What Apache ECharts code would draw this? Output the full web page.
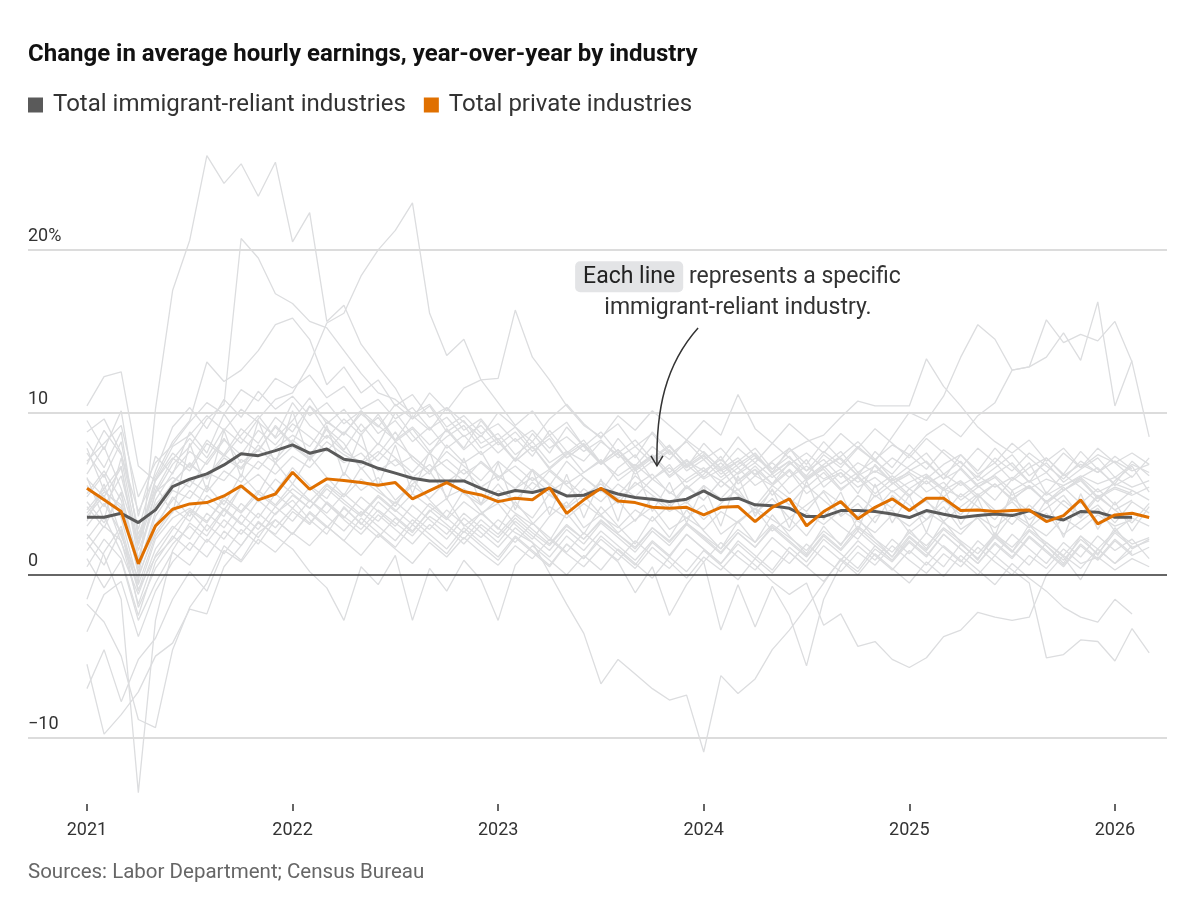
<!DOCTYPE html>
<html>
<head>
<meta charset="utf-8">
<script src="https://cdn.jsdelivr.net/npm/echarts@6/dist/echarts.min.js"></script>
<style>
  html, body { margin: 0; padding: 0; background: #fff; }
  #chart { width: 1200px; height: 900px; }
</style>
</head>
<body>
<div id="chart"></div>
<script>
const FONT = 'Roboto, "Liberation Sans", sans-serif';

// x = months since Jan 2021 (index into each series)
const yearLabels = ['2021', '2022', '2023', '2024', '2025', '2026'];
const yTicks = [-10, 0, 10, 20];

// Total private industries (Jan 2021 - Mar 2026)
const privateTotal = [
  5.33, 4.62, 3.90, 0.68, 3.02, 4.04, 4.37, 4.45, 4.86, 5.48, 4.62, 4.98,
  6.32, 5.27, 5.91, 5.81, 5.68, 5.52, 5.68, 4.68, 5.19, 5.68, 5.13, 4.92,
  4.51, 4.72, 4.62, 5.37, 3.79, 4.62, 5.33, 4.55, 4.45, 4.16, 4.10, 4.16,
  3.69, 4.16, 4.21, 3.28, 4.16, 4.68, 3.02, 3.90, 4.51, 3.45, 4.16, 4.68,
  3.96, 4.72, 4.72, 3.96, 3.99, 3.90, 3.96, 3.99, 3.28, 3.65, 4.62, 3.14,
  3.69, 3.79, 3.53
];

// Total immigrant-reliant industries (Jan 2021 - Feb 2026)
const immigrantTotal = [
  3.55, 3.55, 3.79, 3.22, 4.00, 5.44, 5.89, 6.22, 6.77, 7.45, 7.34, 7.65,
  8.00, 7.49, 7.75, 7.12, 6.97, 6.56, 6.26, 5.95, 5.78, 5.78, 5.78, 5.33,
  4.92, 5.19, 5.07, 5.33, 4.86, 4.90, 5.29, 4.98, 4.76, 4.66, 4.51, 4.66,
  5.17, 4.62, 4.72, 4.31, 4.25, 4.10, 3.59, 3.59, 3.96, 3.96, 3.90, 3.75,
  3.53, 3.96, 3.73, 3.53, 3.65, 3.75, 3.65, 3.94, 3.59, 3.38, 3.90, 3.86,
  3.55, 3.55
];

// individual immigrant-reliant industries
const indA = [
  4.8, 6.2, 3.5, -0.5, 10.2, 17.5, 20.6, 25.8, 24.1, 25.3, 23.3, 25.4,
  20.5, 22.3, 15.6, 16.6, 14.2, 12.8, 11.5, 9.6, 10.4, 8.8, 9.5, 8.1,
  8.7, 7.4, 8.2, 6.9, 7.6, 6.3, 7.1, 5.8, 6.6, 7.3, 6.0, 6.8,
  5.9, 6.5, 5.2, 6.1, 5.5, 6.4, 5.0, 5.8, 6.3, 5.4, 6.0, 5.1,
  5.7, 6.2, 5.3, 4.8, 5.6, 6.1, 5.2, 5.8, 4.9, 5.5, 6.0, 5.1,
  5.6, 5.2, null
];
const indB = [
  7.5, 6.0, 8.2, 2.5, 5.2, 7.1, 8.4, 7.2, 9.0, 8.1, 9.6, 10.8,
  11.2, 13.0, 15.5, 16.1, 18.4, 20.0, 21.2, 22.9, 16.1, 13.5, 14.5, 12.0,
  10.6, 9.2, 10.1, 8.6, 9.4, 7.9, 8.8, 7.5, 8.3, 7.1, 7.9, 6.8,
  7.6, 6.5, 7.2, 6.1, 7.0, 7.8, 6.4, 7.1, 6.0, 6.9, 6.3, 7.2,
  6.5, 5.9, 6.8, 7.4, 6.2, 6.9, 5.8, 6.6, 7.2, 6.1, 6.8, 6.3,
  7.0, 6.4, 6.8
];
const indC = [
  5.5, 4.2, 6.1, 1.8, 5.0, 6.8, 7.9, 9.6, 10.5, 20.7, 19.5, 17.3,
  16.7, 15.6, 15.2, 13.8, 12.4, 11.2, 10.8, 9.9, 10.5, 9.1, 9.8, 8.7,
  9.3, 8.2, 8.9, 7.8, 8.5, 7.6, 8.3, 7.2, 7.9, 6.9, 7.6, 6.6,
  7.3, 6.4, 7.0, 6.2, 6.9, 6.0, 6.7, 5.9, 6.5, 5.7, 6.4, 5.8,
  6.3, 5.6, 6.2, 5.5, 6.1, 5.4, 6.0, 5.3, 5.9, 5.5, 6.1, 5.6,
  6.0, 5.4, 5.8
];
const indD = [
  10.4, 12.2, 12.5, 6.7, 5.8, 7.2, 6.4, 8.1, 7.3, 8.6, 9.8, 8.4,
  9.5, 10.9, 9.3, 10.2, 8.8, 9.7, 8.2, 9.0, 7.6, 8.5, 9.2, 7.8,
  8.4, 7.0, 7.9, 6.5, 7.4, 8.1, 6.8, 7.5, 6.2, 7.0, 7.7, 6.4,
  7.1, 6.0, 6.8, 7.5, 6.3, 7.0, 5.8, 6.6, 7.2, 6.1, 6.7, 5.6,
  6.4, 7.0, 5.9, 6.5, 5.4, 6.2, 6.9, 5.7, 6.3, 5.2, 6.0, 6.6,
  5.5, 6.1, null
];
const indF = [
  6.8, 8.9, 7.4, 3.9, 6.1, 8.2, 9.5, 13.1, 11.9, 12.6, 13.8, 15.4,
  15.8, 14.5, 11.7, 12.8, 11.2, 12.0, 10.4, 11.1, 9.7, 10.3, 8.9, 9.6,
  8.3, 9.1, 7.8, 8.6, 7.2, 8.0, 6.9, 7.7, 6.5, 7.3, 6.1, 7.0,
  6.4, 5.8, 6.6, 5.5, 6.2, 5.0, 5.9, 6.5, 5.3, 6.0, 4.8, 5.6,
  6.2, 5.1, 5.7, 4.6, 5.4, 6.0, 4.9, 5.5, 4.4, 5.2, 5.8, 4.7,
  5.3, 4.9, 5.4
];
const indG = [
  3.8, 5.1, 4.3, 0.2, 3.6, 5.2, 4.7, 6.3, 5.8, 7.1, 6.5, 7.8,
  8.6, 7.9, 9.4, 8.7, 9.9, 9.1, 10.5, 9.6, 11.2, 10.1, 11.5, 12.0,
  12.1, 16.3, 13.4, 12.0, 10.4, 9.2, 8.5, 9.3, 7.9, 8.7, 7.4, 8.2,
  7.1, 7.8, 6.6, 7.4, 6.2, 7.0, 5.9, 6.7, 5.6, 6.3, 5.4, 6.1,
  5.3, 6.0, 5.2, 5.8, 4.9, 5.6, 4.7, 5.4, 4.5, 5.2, 5.9, 4.8,
  5.4, 5.0, null
];
const indG2 = [
  4.5, 3.2, 5.0, 0.8, 3.1, 4.6, 5.8, 5.1, 6.4, 5.7, 7.0, 6.2,
  7.3, 6.6, 7.8, 6.9, 7.5, 6.4, 7.1, 6.0, 6.8, 5.7, 6.5, 5.4,
  6.1, 5.3, 6.0, 5.1, 5.8, 4.9, 5.6, 4.7, 5.5, 6.2, 5.0, 5.9,
  6.6, 5.4, 6.3, 7.2, 6.5, 7.6, 8.2, 8.6, 9.7, 10.7, 10.4, 10.4,
  10.4, 13.3, 11.6, 10.4, 9.1, 8.2, 7.5, 8.3, 7.0, 7.8, 6.6, 7.4,
  6.9, 7.5, 6.8
];
const indH = [
  3.0, 4.4, 2.6, -1.0, 2.2, 3.5, 4.1, 3.3, 4.6, 3.8, 5.0, 4.2,
  5.3, 4.5, 5.6, 4.8, 5.9, 5.1, 4.4, 5.5, 4.7, 5.8, 5.0, 4.3,
  5.2, 4.6, 5.7, 4.9, 4.2, 5.3, 4.5, 5.6, 4.8, 5.9, 5.1, 4.4,
  5.5, 4.7, 5.8, 6.5, 5.6, 6.9, 6.1, 7.4, 6.6, 7.8, 7.0, 8.5,
  10.0, 9.5, 11.0, 13.4, 15.4, 14.5, 12.6, 12.8, 15.7, 14.3, 14.8, 14.4,
  15.6, 13.1, 8.5
];
const indI = [
  5.9, 4.8, 6.6, 1.5, 4.3, 5.6, 6.9, 5.9, 7.2, 6.5, 7.7, 6.9,
  7.9, 7.1, 8.2, 7.4, 6.8, 7.6, 6.7, 7.3, 6.4, 7.1, 6.2, 6.9,
  6.0, 6.7, 5.8, 6.5, 5.6, 6.3, 7.0, 6.1, 6.8, 5.9, 6.6, 5.7,
  6.4, 7.1, 6.2, 6.9, 6.0, 6.8, 7.5, 6.6, 7.3, 8.2, 7.1, 8.0,
  7.4, 8.6, 9.3, 8.5, 9.8, 10.6, 12.6, 12.8, 13.4, 14.9, 13.2, 16.8,
  10.4, 13.2, null
];
const indN1 = [
  2.5, 1.2, -1.5, -13.4, -2.8, 1.5, 3.2, 2.4, 4.0, 3.1, 4.6, 3.7,
  4.9, 4.1, 5.3, 4.4, 3.6, 4.8, 3.9, 5.0, 4.2, 3.4, 4.5, 3.7,
  4.7, 3.8, 3.1, 4.2, 3.5, 4.4, 3.6, 2.9, 4.0, 3.3, 4.3, 3.5,
  2.8, 3.9, 3.2, 4.1, 3.4, 2.7, 3.8, 3.1, 4.0, 3.3, 2.6, 3.7,
  3.0, 3.9, 3.2, 2.5, 3.6, 2.9, 3.8, 3.1, 2.4, 3.5, 2.8, 3.7,
  3.0, 3.4, null
];
const indN2 = [
  -5.5, -9.8, -8.6, -7.2, -5.0, -4.2, -2.1, -2.4, 0.5, 1.8, 3.2, 2.5,
  3.9, 3.1, 4.5, 3.6, 2.8, 4.0, 3.2, 2.4, 3.6, 2.9, 1.9, 3.1,
  2.3, 3.5, 2.6, 1.8, 3.0, 2.2, 3.3, 2.5, 1.7, 2.9, 2.1, 3.2,
  2.4, 1.6, 2.8, 2.0, 3.1, 2.3, 1.5, 2.7, 1.9, 3.0, 2.2, 1.4,
  2.6, 1.8, 2.9, 2.1, 1.3, 2.5, 1.7, 2.8, 2.0, 1.2, 2.4, 1.6,
  2.7, 1.9, 2.3
];
const indN3 = [
  -7.0, -4.6, -7.8, -5.2, -3.9, -1.5, 0.2, -1.0, 1.5, 0.8, 2.2, 1.4,
  2.6, 1.8, 3.0, 2.1, 1.2, 2.5, 1.6, 0.7, 2.0, 1.1, 2.3, 1.4,
  0.6, 1.8, 1.0, 2.2, 1.3, 0.5, 1.7, 0.9, 2.1, 1.2, 0.4, 1.6,
  0.8, 2.0, 1.1, 0.3, 1.5, 0.7, 1.9, 1.0, 0.2, 1.4, 0.6, 1.8,
  0.9, 0.1, 1.3, 0.5, 1.7, 0.8, 0.0, 1.2, 0.4, 1.6, 0.7, 1.1,
  0.3, 1.0, 0.5
];
const indN4 = [
  -1.8, -2.9, -5.0, -8.9, -9.4, -4.6, -2.0, -0.5, 1.8, 0.9, 2.6, 3.4,
  2.5, 3.8, 2.9, 4.1, 3.2, 2.3, 3.5, 2.6, 4.0, 3.1, 2.2, 3.4,
  2.5, 3.7, 2.8, 1.9, 3.1, 2.2, 3.4, 2.5, 1.6, 2.9, 2.0, 3.2,
  2.3, 1.4, 2.6, 1.7, 2.9, 2.0, 1.1, 2.4, 1.5, 2.7, 1.8, 0.9,
  2.1, 1.2, 2.5, 1.6, 0.7, 2.0, 1.1, 2.4, 1.5, 0.6, 1.9, 1.0,
  2.2, 1.3, null
];
const indN5 = [
  1.5, 3.0, 2.1, -1.8, 1.2, 2.8, 4.0, 3.2, 4.8, 3.9, 5.2, 4.3,
  5.6, 4.6, 3.8, 5.0, 4.1, 3.3, 4.5, 3.6, 2.8, 4.0, 3.1, 2.3,
  3.4, 2.6, 2.0, 0.1, -1.8, -3.6, -6.7, -5.2, -6.1, -7.0, -7.7, -7.4,
  -10.9, -6.2, -7.3, -6.4, -4.6, -3.4, -2.0, -0.5, 1.0, 0.2, 1.6, 0.8,
  2.0, 1.1, 2.5, 1.6, 0.7, 1.9, 1.0, 2.3, 1.4, 0.5, 1.8, 0.9,
  2.1, 1.2, 1.7
];
const indN6 = [
  0.5, 2.2, 1.0, -2.5, 0.8, 2.4, 1.5, 3.1, 2.2, 3.7, 2.8, 4.2,
  3.3, 4.6, 3.6, 2.7, 3.9, 3.0, 2.1, 3.4, 2.5, 1.6, 2.9, 2.0,
  1.1, 2.4, 1.5, 0.6, 1.9, 1.0, 2.2, 1.3, 0.4, 1.7, 0.8, -0.2,
  1.1, 0.3, 1.5, 0.6, -0.4, -1.2, -0.5, -3.1, -2.4, -4.4, -4.1, -5.2,
  -5.7, -5.1, -3.8, -3.4, -2.3, -2.6, -2.8, -2.6, 0.0, 1.2, 0.4, 1.6,
  0.7, 1.5, null
];
const indN7 = [
  2.0, 0.6, 2.8, -2.0, 0.4, 1.9, 3.0, 2.0, 3.4, 2.5, 3.8, 2.9,
  4.1, 3.2, 4.4, 3.4, 2.5, 3.7, 2.8, 1.9, 3.1, 2.2, 3.5, 2.6,
  1.7, 2.9, 2.0, 1.1, 2.4, 1.5, 2.7, 1.8, 0.9, 2.1, 1.2, 2.5,
  1.6, 0.7, 1.9, 1.0, 2.3, 1.4, 0.5, 1.8, 0.9, 2.1, 1.2, 0.3,
  1.5, 0.6, 1.8, 0.9, 0.0, 1.2, 0.3, -0.5, -5.1, -4.9, -4.0, -4.1,
  -5.3, -3.3, -4.8
];
const indN8 = [
  -3.5, -1.2, -0.4, -3.8, -1.0, 0.8, 2.0, 1.1, 2.7, 1.8, 3.3, 2.4,
  1.6, 0.2, -0.8, -2.8, 0.5, -0.6, 1.2, -2.8, 0.4, -1.0, 0.9, -0.3,
  -2.8, 0.6, 1.8, 0.9, 0.0, 1.2, 0.3, 1.6, 0.7, -0.2, 1.1, 0.2,
  1.5, 0.6, -0.3, 1.0, 0.1, 1.4, 0.5, -0.4, 0.9, 0.0, 1.3, 0.4,
  -0.5, 0.8, -0.1, 1.2, 0.3, -0.6, 0.7, -0.2, -1.0, -2.0, -2.6, -2.9,
  -1.5, -2.4, null
];
const indN9 = [
  4.2, 2.9, 5.1, 0.0, 2.6, 4.1, 3.3, 4.9, 4.0, 5.4, 4.5, 5.9,
  5.0, 4.1, 5.5, 4.6, 3.7, 4.9, 4.0, 3.1, 4.4, 3.5, 2.6, 3.8,
  2.9, 2.0, 3.2, 2.3, 1.4, 2.6, 1.7, 0.8, -1.1, 0.5, -2.5, -0.6,
  0.8, -3.4, -0.6, -3.2, -0.7, -2.5, -5.6, -1.5, 0.6, 1.8, 0.9, 2.2,
  1.3, 2.6, 1.7, 0.8, 2.1, 1.2, 2.5, 1.6, 0.7, 2.0, 1.1, 2.4,
  1.5, 2.2, 1.0
];
const band1 = [
  8.8, 9.6, 7.5, 2.8, 6.4, 9.1, 10.3, 9.0, 10.8, 9.7, 11.3, 10.2,
  11.0, 9.8, 10.6, 9.3, 10.1, 8.7, 9.5, 8.2, 9.1, 7.8, 8.6, 7.4,
  8.2, 7.0, 7.9, 6.6, 7.5, 8.3, 6.9, 7.7, 6.4, 7.2, 8.0, 6.7,
  7.4, 6.2, 7.0, 7.8, 6.5, 7.3, 6.0, 6.8, 7.6, 6.3, 7.1, 5.9,
  6.7, 7.5, 6.2, 7.0, 5.8, 6.6, 7.4, 6.1, 6.9, 5.7, 6.5, 7.2,
  6.0, 6.8, 6.3
];
const band2 = [
  5.0, 6.4, 4.6, 0.4, 3.9, 5.7, 6.8, 6.0, 7.4, 6.6, 8.0, 7.1,
  8.3, 7.4, 8.6, 7.6, 6.9, 8.1, 7.2, 6.3, 7.5, 6.6, 5.8, 7.0,
  6.1, 5.3, 6.5, 5.6, 4.8, 6.0, 5.2, 4.4, 5.7, 4.9, 4.1, 5.4,
  4.6, 5.8, 5.0, 4.2, 5.5, 4.7, 3.9, 5.2, 4.4, 3.6, 4.9, 4.1,
  5.3, 4.5, 3.7, 5.0, 4.2, 3.4, 4.7, 3.9, 5.1, 4.3, 3.5, 4.8,
  4.0, 4.6, null
];
const band3 = [
  2.2, 3.6, 1.4, -1.2, 1.6, 3.0, 2.2, 3.8, 2.9, 4.4, 3.5, 5.0,
  4.1, 5.4, 4.4, 3.5, 4.8, 3.9, 3.0, 4.3, 3.4, 2.5, 3.8, 2.9,
  2.0, 3.3, 2.4, 1.5, 2.8, 1.9, 3.2, 2.3, 1.4, 2.7, 1.8, 3.1,
  2.2, 1.3, 2.6, 1.7, 3.0, 2.1, 1.2, 2.5, 1.6, 2.9, 2.0, 1.1,
  2.4, 1.5, 2.8, 1.9, 1.0, 2.3, 1.4, 2.7, 1.8, 0.9, 2.2, 1.3,
  2.6, 1.7, 2.1
];
const band4 = [
  6.0, 3.4, 7.2, 1.9, 5.5, 3.8, 8.1, 5.2, 8.9, 6.0, 9.5, 6.8,
  10.1, 7.0, 9.2, 6.1, 8.7, 5.5, 8.0, 5.0, 7.6, 4.6, 7.2, 4.3,
  6.9, 4.0, 6.5, 3.7, 6.2, 3.5, 5.9, 3.3, 6.6, 3.9, 5.7, 3.2,
  5.5, 3.0, 6.1, 3.6, 5.3, 2.9, 5.8, 3.4, 5.1, 2.7, 5.6, 3.2,
  4.9, 2.6, 5.4, 3.1, 4.7, 2.4, 5.2, 3.0, 4.6, 2.3, 5.0, 2.8,
  4.5, 2.7, 4.2
];
const band5 = [
  7.0, 8.1, 9.2, 4.8, 6.9, 8.0, 9.4, 10.6, 9.9, 11.4, 10.7, 12.1,
  11.5, 12.3, 10.9, 11.6, 10.2, 10.8, 9.6, 10.3, 9.0, 9.7, 8.5, 9.2,
  8.0, 8.8, 7.6, 8.4, 7.2, 8.0, 6.9, 7.7, 6.6, 7.4, 6.3, 7.1,
  6.0, 6.9, 5.8, 6.7, 5.6, 6.5, 5.4, 6.3, 5.2, 6.1, 5.0, 5.9,
  4.9, 5.8, 4.8, 5.7, 4.7, 5.6, 4.6, 5.5, 4.5, 5.4, 4.4, 5.3,
  4.3, 5.2, 4.6
];
const band6 = [
  3.3, 5.6, 2.4, -0.2, 2.9, 4.8, 3.6, 5.5, 4.3, 6.2, 5.0, 6.9,
  5.6, 7.3, 6.0, 4.9, 6.6, 5.3, 4.2, 5.9, 4.6, 3.5, 5.2, 3.9,
  2.8, 4.5, 3.2, 2.1, 3.8, 2.5, 4.2, 3.0, 1.9, 3.6, 2.3, 4.0,
  2.7, 1.6, 3.3, 2.0, 3.7, 2.4, 1.3, 3.0, 1.8, 3.5, 2.2, 1.1,
  2.8, 1.6, 3.3, 2.0, 0.9, 2.6, 1.4, 3.1, 1.8, 0.7, 2.4, 1.2,
  2.9, 1.6, 2.2
];
const band7 = [
  9.5, 7.7, 10.1, 3.6, 7.3, 6.2, 8.8, 7.5, 9.9, 8.4, 7.6, 9.2,
  8.1, 10.4, 8.9, 7.7, 9.3, 8.0, 10.0, 8.6, 7.4, 9.0, 7.8, 9.5,
  8.2, 7.1, 8.7, 7.5, 9.1, 7.9, 6.8, 8.4, 7.2, 8.8, 7.6, 6.6,
  8.1, 7.0, 8.5, 7.3, 6.3, 7.8, 6.8, 8.2, 7.1, 6.1, 7.6, 6.6,
  8.0, 6.9, 5.9, 7.4, 6.4, 7.8, 6.7, 5.7, 7.2, 6.2, 7.6, 6.5,
  5.6, 7.0, 6.1
];
const band8 = [
  1.0, -0.8, 0.9, -2.8, -0.5, 1.4, 0.6, 2.2, 1.3, 2.8, 1.9, 3.4,
  2.5, 3.9, 3.0, 2.1, 3.5, 2.6, 1.7, 3.1, 2.2, 1.3, 2.7, 1.8,
  0.9, 2.3, 1.4, 0.5, 1.9, 1.0, 2.4, 1.5, 0.6, 2.0, 1.1, 2.5,
  1.6, 0.7, 2.1, 1.2, 0.3, 1.7, 0.8, 2.2, 1.3, 0.4, 1.8, 0.9,
  2.3, 1.4, 0.5, 1.9, 1.0, 2.4, 1.5, 0.6, 2.0, 1.1, -0.3, 1.6,
  0.7, 1.8, null
];
const band9 = [
  4.0, 5.3, 6.7, 1.0, 4.6, 6.3, 7.6, 6.8, 8.3, 7.4, 8.9, 8.0,
  9.3, 8.5, 7.6, 8.8, 7.9, 7.0, 8.2, 7.3, 6.4, 7.6, 6.7, 5.8,
  7.0, 6.1, 5.2, 6.4, 5.5, 4.6, 5.8, 4.9, 6.1, 5.2, 4.3, 5.5,
  4.6, 5.8, 4.9, 4.0, 5.2, 4.3, 5.5, 4.6, 3.7, 4.9, 4.0, 5.2,
  4.3, 3.4, 4.6, 3.7, 4.9, 4.0, 3.1, 4.3, 3.4, 4.6, 3.7, 4.9,
  4.0, 3.2, 4.4
];
const band10 = [
  6.2, 7.9, 5.3, 2.0, 5.8, 7.5, 6.6, 8.3, 7.4, 9.0, 8.1, 9.7,
  8.8, 10.4, 9.5, 8.6, 10.1, 9.2, 8.3, 9.8, 8.9, 10.3, 9.4, 8.5,
  10.0, 9.1, 8.2, 9.6, 10.5, 9.3, 8.4, 9.8, 8.9, 10.1, 9.2, 8.3,
  9.5, 8.6, 11.1, 9.0, 8.1, 9.3, 8.4, 7.5, 8.7, 7.8, 9.0, 8.1,
  7.2, 8.4, 7.5, 6.6, 7.8, 6.9, 8.1, 7.2, 6.3, 7.5, 6.6, 7.8,
  6.9, 6.0, 7.2
];
const band11 = [
  7.8, 5.2, 4.1, 0.9, 5.1, 6.0, 5.4, 7.0, 8.4, 6.9, 7.7, 9.1,
  8.0, 7.2, 9.0, 8.1, 6.5, 7.4, 8.8, 7.1, 6.2, 8.0, 6.9, 7.6,
  5.8, 7.2, 6.4, 5.5, 7.0, 6.0, 5.1, 6.6, 7.4, 5.9, 6.8, 5.3,
  6.2, 7.3, 5.6, 6.5, 4.9, 6.0, 7.1, 5.4, 6.3, 5.0, 6.8, 5.7,
  4.8, 6.1, 5.3, 6.6, 5.5, 4.6, 5.9, 6.9, 5.0, 6.2, 5.4, 4.5,
  5.8, 6.7, 5.1
];
const band12 = [
  3.6, 4.9, 2.0, -0.6, 2.4, 3.9, 5.2, 4.4, 3.6, 5.4, 6.2, 5.1,
  6.6, 5.5, 4.7, 6.3, 5.2, 6.0, 4.6, 5.6, 6.4, 4.8, 5.3, 4.4,
  5.6, 4.3, 3.5, 5.0, 4.1, 4.9, 3.7, 4.6, 3.3, 4.8, 3.9, 4.5,
  3.4, 4.4, 5.3, 3.8, 4.7, 3.5, 4.3, 5.1, 3.6, 4.4, 3.2, 4.9,
  3.9, 4.6, 3.3, 4.2, 5.0, 3.7, 4.5, 3.4, 4.1, 4.9, 3.6, 4.3,
  3.2, 4.5, 3.8
];
const band13 = [
  8.2, 6.6, 8.8, 2.2, 5.9, 7.9, 8.6, 9.8, 8.9, 10.2, 9.4, 8.5,
  10.6, 9.2, 8.4, 9.6, 8.6, 9.9, 8.3, 9.1, 8.0, 8.9, 7.7, 8.6,
  7.5, 8.4, 7.3, 8.9, 7.6, 7.0, 8.2, 7.4, 6.7, 7.9, 7.1, 8.3,
  7.5, 6.6, 7.8, 6.9, 8.1, 7.2, 6.4, 7.6, 6.8, 7.9, 7.0, 6.2,
  7.4, 6.5, 7.7, 6.9, 6.0, 7.2, 6.4, 7.5, 6.7, 5.9, 7.0, 6.3,
  7.3, 6.5, null
];
const band14 = [
  -1.5, 1.4, 3.0, -0.9, 1.1, 2.2, 3.9, 2.7, 4.1, 3.2, 2.3, 3.8,
  4.6, 3.4, 2.5, 4.2, 3.1, 4.5, 3.6, 2.7, 3.9, 4.7, 3.0, 3.8,
  4.4, 3.1, 2.2, 3.6, 4.5, 2.9, 3.7, 2.6, 3.4, 4.2, 2.8, 3.5,
  4.3, 2.5, 3.3, 4.1, 2.7, 3.5, 2.4, 3.9, 3.0, 2.2, 3.6, 4.0,
  2.6, 3.4, 4.2, 2.8, 3.5, 2.3, 3.7, 2.9, 3.8, 2.5, 3.3, 4.1,
  2.7, 3.5, 3.0
];

const industries = [
  indA, indB, indC, indD, indF, indG, indG2, indH, indI,
  indN1, indN2, indN3, indN4, indN5, indN6, indN7, indN8, indN9,
  band1, band2, band3, band4, band5, band6, band7, band8, band9, band10,
  band11, band12, band13, band14
];

const NAME_IMM = 'Total immigrant-reliant industries';
const NAME_PRIV = 'Total private industries';
const COLOR_IMM = '#5a5a5a';
const COLOR_PRIV = '#e07000';

const toPairs = (arr) =>
  arr.map((v, i) => [i, v]).filter((p) => p[1] !== null);

const chart = echarts.init(document.getElementById('chart'));

const yearTickValues = yearLabels.map((_, k) => k * 12);

const industrySeries = industries.map((vals, k) => ({
  name: 'industry-' + k,
  type: 'line',
  data: toPairs(vals),
  symbol: 'none',
  silent: true,
  z: 2,
  lineStyle: { color: '#dcdddf', width: 1.3 },
  itemStyle: { color: '#dcdddf' },
}));

const option = {
  animation: false,
  textStyle: { fontFamily: FONT },
  title: [
    {
      text: 'Change in average hourly earnings, year-over-year by industry',
      left: 28,
      top: 43,
      padding: 0,
      textStyle: { fontSize: 24, fontWeight: 'bold', color: '#111', fontFamily: FONT },
    },
    {
      text: 'Sources: Labor Department; Census Bureau',
      left: 28,
      top: 862,
      padding: 0,
      textStyle: { fontSize: 20.5, fontWeight: 'normal', color: '#666', fontFamily: FONT },
    },
  ],
  legend: {
    data: [NAME_IMM, NAME_PRIV],
    left: 28,
    top: 93,
    padding: 0,
    icon: 'rect',
    itemWidth: 15,
    itemHeight: 15,
    itemGap: 18,
    selectedMode: false,
    textStyle: { fontSize: 24, color: '#333', fontFamily: FONT, padding: [0, 0, 0, 5] },
  },
  grid: { left: 28, right: 33, top: 150, bottom: 96, containLabel: false },
  xAxis: {
    type: 'value',
    min: -3.44,
    max: 63.04,
    axisLine: { show: false, onZero: false },
    splitLine: { show: false },
    axisTick: {
      show: true,
      customValues: yearTickValues,
      length: 7,
      lineStyle: { color: '#333', width: 1.5 },
    },
    axisLabel: {
      customValues: yearTickValues,
      formatter: (v) => yearLabels[Math.round(v / 12)],
      fontSize: 18,
      color: '#333',
      margin: 17,
      fontFamily: FONT,
    },
  },
  yAxis: {
    type: 'value',
    min: -14.1,
    max: 26.15,
    axisLine: { show: false },
    axisTick: { show: false },
    splitLine: { show: false },
    axisLabel: {
      customValues: yTicks,
      inside: true,
      margin: 0,
      verticalAlign: 'bottom',
      padding: [0, 0, 4, 0],
      fontSize: 18,
      color: '#333',
      fontFamily: FONT,
      formatter: (v) => (v === 20 ? '20%' : v < 0 ? '\u2212' + Math.abs(v) : String(v)),
    },
  },
  series: [
    {
      type: 'line',
      data: [],
      silent: true,
      z: 1,
      markLine: {
        silent: true,
        symbol: 'none',
        label: { show: false },
        lineStyle: { color: '#dcdcdc', width: 2, type: 'solid' },
        data: yTicks.filter((v) => v !== 0).map((v) => ({ yAxis: v })),
      },
    },
    ...industrySeries,
    {
      type: 'line',
      data: [],
      silent: true,
      z: 3,
      markLine: {
        silent: true,
        symbol: 'none',
        label: { show: false },
        lineStyle: { color: '#333', width: 1.5, type: 'solid' },
        data: [{ yAxis: 0 }],
      },
    },
    {
      name: NAME_IMM,
      type: 'line',
      data: toPairs(immigrantTotal),
      symbol: 'none',
      z: 4,
      lineStyle: { color: COLOR_IMM, width: 3 },
      itemStyle: { color: COLOR_IMM },
    },
    {
      name: NAME_PRIV,
      type: 'line',
      data: toPairs(privateTotal),
      symbol: 'none',
      z: 5,
      lineStyle: { color: COLOR_PRIV, width: 3 },
      itemStyle: { color: COLOR_PRIV },
    },
  ],
};

chart.setOption(option);

// annotation, anchored in data coordinates
const px = (m, v) => chart.convertToPixel({ gridIndex: 0 }, [m, v]);
const textPos = px(38.0, 19.3);
const arrowStart = px(35.67, 15.2);
const arrowTip = px(33.27, 6.71);

chart.setOption({
  graphic: [
    {
      type: 'text',
      silent: true,
      z: 10,
      style: {
        x: textPos[0],
        y: textPos[1],
        align: 'center',
        verticalAlign: 'top',
        text: '{hl|Each line} represents a specific\nimmigrant-reliant industry.',
        fontSize: 23,
        fontFamily: FONT,
        fill: '#333',
        lineHeight: 31,
        rich: {
          hl: {
            fontSize: 23,
            fontFamily: FONT,
            fill: '#222',
            backgroundColor: '#e3e4e6',
            borderRadius: 5,
            padding: [4, 8, 4, 8],
          },
        },
      },
    },
    {
      type: 'bezierCurve',
      silent: true,
      z: 10,
      shape: {
        x1: arrowStart[0],
        y1: arrowStart[1],
        cpx1: arrowStart[0] - 33,
        cpy1: arrowStart[1] + 37,
        cpx2: arrowTip[0] - 1,
        cpy2: arrowTip[1] - 56,
        x2: arrowTip[0],
        y2: arrowTip[1],
      },
      style: { stroke: '#333', lineWidth: 1.5, fill: null },
    },
    {
      type: 'polyline',
      silent: true,
      z: 10,
      shape: {
        points: [
          [arrowTip[0] - 6, arrowTip[1] - 10],
          [arrowTip[0], arrowTip[1]],
          [arrowTip[0] + 6, arrowTip[1] - 10],
        ],
      },
      style: { stroke: '#333', lineWidth: 1.5, fill: null },
    },
  ],
});
</script>
</body>
</html>
